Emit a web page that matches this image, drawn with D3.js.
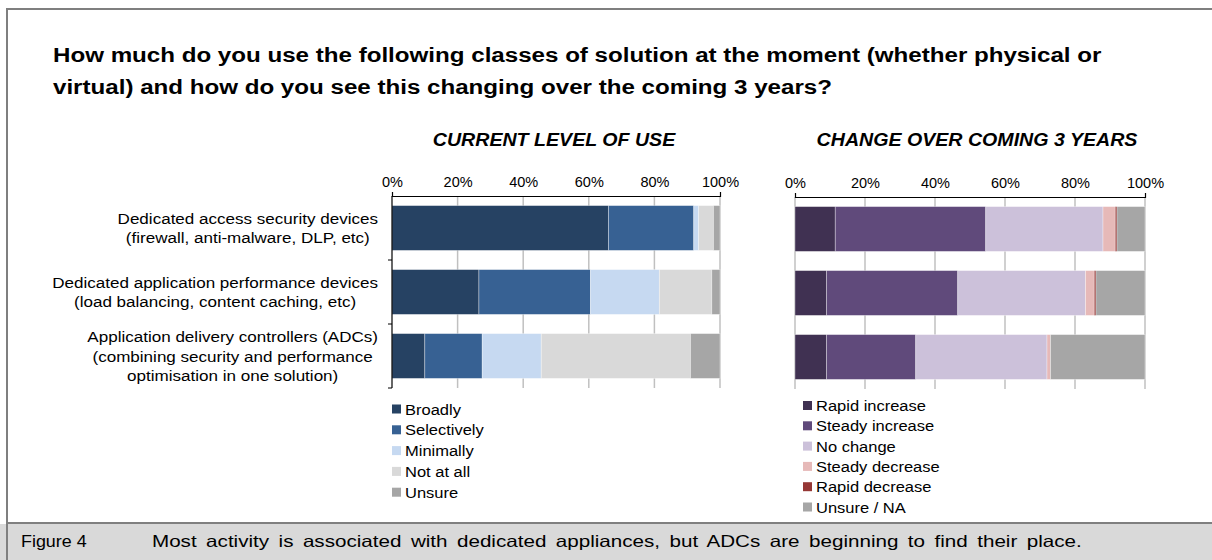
<!DOCTYPE html>
<html>
<head>
<meta charset="utf-8">
<script src="https://cdn.jsdelivr.net/npm/d3@7"></script>
<style>
  body { margin: 0; background: #fff; }
  svg text { font-family: "Liberation Sans", Arial, sans-serif; fill: #000; }
</style>
</head>
<body>
<svg id="chart" width="1212" height="560"></svg>
<script>
// Chart data
const categories = [
  ['Dedicated access security devices', '(firewall, anti-malware, DLP, etc)'],
  ['Dedicated application performance devices', '(load balancing, content caching, etc)'],
  ['Application delivery controllers (ADCs)', '(combining security and performance', 'optimisation in one solution)']
];
const ticks = [0, 20, 40, 60, 80, 100];

// Current level of use (%)
const useSeries = ['Broadly', 'Selectively', 'Minimally', 'Not at all', 'Unsure'];
const broadly = [66, 26.5, 10];
const selectively = [26, 34, 17.5];
const minimally = [1.5, 21, 18];
const notAtAll = [4.5, 16, 45.5];
const unsure = [2, 2.5, 9];
const useColors = ['#264263', '#376193', '#c6d9f1', '#d9d9d9', '#a6a6a6'];

// Change over coming 3 years (%)
const changeSeries = ['Rapid increase', 'Steady increase', 'No change', 'Steady decrease', 'Rapid decrease', 'Unsure / NA'];
const rapidIncrease = [11.5, 9, 9];
const steadyIncrease = [43, 37.5, 25.5];
const noChange = [33.5, 36.5, 37.5];
const steadyDecrease = [3.5, 2.5, 1];
const rapidDecrease = [0.5, 0.5, 0];
const unsureNA = [8, 14, 27];
const changeColors = ['#403152', '#604a7b', '#ccc1da', '#e6b9b8', '#953735', '#a6a6a6'];

const svg = d3.select('#chart');

// the reference text looks a bit wider than plain Arial, so stretch it a little
function label(g, x, y, s, size, sx, anchor, extra) {
  const t = g.append('text')
    .attr('transform', 'translate(' + x + ',' + y + ') scale(' + sx + ',1)')
    .attr('font-size', size)
    .attr('text-anchor', anchor || 'start')
    .text(s);
  if (extra) extra(t);
  return t;
}

// Frame and caption band
svg.append('rect').attr('x', 0).attr('y', 524).attr('width', 1212).attr('height', 36).attr('fill', '#d9d9d9');
svg.append('path').attr('d', 'M7,560V9H1220').attr('fill', 'none').attr('stroke', '#7f7f7f').attr('stroke-width', 2);
svg.append('line').attr('x1', 6).attr('x2', 1212).attr('y1', 523).attr('y2', 523).attr('stroke', '#7f7f7f').attr('stroke-width', 2);

label(svg, 21, 547, 'Figure 4', 16, 1.12);
label(svg, 152, 547, 'Most activity is associated with dedicated appliances, but ADCs are beginning to find their place.', 16.5, 1.25, 'start',
  t => t.attr('word-spacing', 3));

// Title
const titleLines = ['How much do you use the following classes of solution at the moment (whether physical or',
  'virtual) and how do you see this changing over the coming 3 years?'];
titleLines.forEach((s, i) => {
  label(svg, 53, 62 + i * 32, s, 21, 1.15, 'start', t => t.attr('font-family', 'Lato, "Open Sans", sans-serif').attr('font-weight', 'bold'));
});

function panel(opts) {
  const g = svg.append('g');
  const x = d3.scaleLinear().domain([0, 100]).range(opts.xRange);
  const y = d3.scaleBand().domain(d3.range(categories.length)).range(opts.yRange)
    .paddingInner(0.3).paddingOuter(0.15);

  // panel heading
  label(g, d3.mean(opts.xRange) + opts.headShift, 146, opts.heading, 18.5, 1.06, 'middle',
    t => t.attr('font-weight', 'bold').attr('font-style', 'italic'));

  // vertical gridlines
  g.selectAll('line.grid').data(ticks.slice(opts.gridFrom)).join('line')
    .attr('x1', d => x(d)).attr('x2', d => x(d))
    .attr('y1', opts.yRange[0]).attr('y2', opts.yRange[1])
    .attr('stroke', '#c0c0c0').attr('stroke-width', 1.5);

  // stacked bars
  const rows = d3.range(categories.length).map(i => {
    const r = {};
    opts.keys.forEach((k, j) => { r[k] = opts.values[j][i]; });
    return r;
  });
  const stacked = d3.stack().keys(opts.keys)(rows);
  g.selectAll('g.layer').data(stacked).join('g')
    .attr('fill', (d, i) => opts.colors[i])
    .selectAll('rect').data(d => d).join('rect')
    .attr('x', d => x(d[0]))
    .attr('width', d => x(d[1]) - x(d[0]))
    .attr('y', (d, i) => y(i))
    .attr('height', y.bandwidth())
    .attr('stroke', 'rgba(255,255,255,0.45)')
    .attr('stroke-width', 0.75);

  // top axis
  const axis = d3.axisTop(x).tickValues(ticks).tickFormat(d => d + '%')
    .tickSizeInner(0).tickSizeOuter(4).tickPadding(9);
  const ax = g.append('g').attr('transform', 'translate(0,' + opts.yRange[0] + ')').call(axis);
  ax.select('.domain').attr('stroke', '#000').attr('stroke-width', 1.2);
  ax.selectAll('.tick text').attr('font-family', '"Liberation Sans", Arial, sans-serif')
    .attr('font-size', 14.5).attr('fill', '#000');

  // legend
  opts.keys.forEach((k, i) => {
    const ly = opts.legendY + i * opts.legendStep;
    g.append('rect').attr('x', opts.legendX).attr('y', ly - 4.5).attr('width', 9).attr('height', 9)
      .attr('fill', opts.colors[i]);
    label(g, opts.legendX + 13, ly + 5.5, k, 15, 1.1);
  });
  return { g, x, y };
}

const left = panel({
  heading: 'CURRENT LEVEL OF USE', headShift: -2,
  xRange: [392, 720], yRange: [196, 388], gridFrom: 1,
  keys: useSeries, values: [broadly, selectively, minimally, notAtAll, unsure], colors: useColors,
  legendX: 392, legendY: 409, legendStep: 20.8
});

const right = panel({
  heading: 'CHANGE OVER COMING 3 YEARS', headShift: 7,
  xRange: [795, 1145], yRange: [197, 389], gridFrom: 0,
  keys: changeSeries, values: [rapidIncrease, steadyIncrease, noChange, steadyDecrease, rapidDecrease, unsureNA], colors: changeColors,
  legendX: 803, legendY: 405.5, legendStep: 20.3
});

// left value axis with category tick marks
const yL = left.y;
const step = yL.step();
const bounds = d3.range(categories.length + 1).map(i => 196 + i * step);
left.g.append('line').attr('x1', 392).attr('x2', 392).attr('y1', 196).attr('y2', 388)
  .attr('stroke', '#000').attr('stroke-width', 1.2);
left.g.selectAll('line.ctick').data(bounds.slice(1)).join('line')
  .attr('x1', 388).attr('x2', 392).attr('y1', d => d).attr('y2', d => d)
  .attr('stroke', '#000').attr('stroke-width', 1);

// category labels: lines centred within a block that is right aligned to the axis
categories.forEach((lines, i) => {
  const cy = yL(i) + yL.bandwidth() / 2;
  const sx = 1.1;
  const tmp = lines.map(s => label(svg, 0, 0, s, 15.5, sx, 'start'));
  const w = d3.max(tmp, t => t.node().getComputedTextLength()) * sx;
  tmp.forEach(t => t.remove());
  const cx = 378 - w / 2;
  lines.forEach((s, j) => {
    const ly = cy + (j - (lines.length - 1) / 2) * 19.5 + 5.5;
    label(svg, cx, ly, s, 15.5, sx, 'middle');
  });
});
</script>
</body>
</html>
